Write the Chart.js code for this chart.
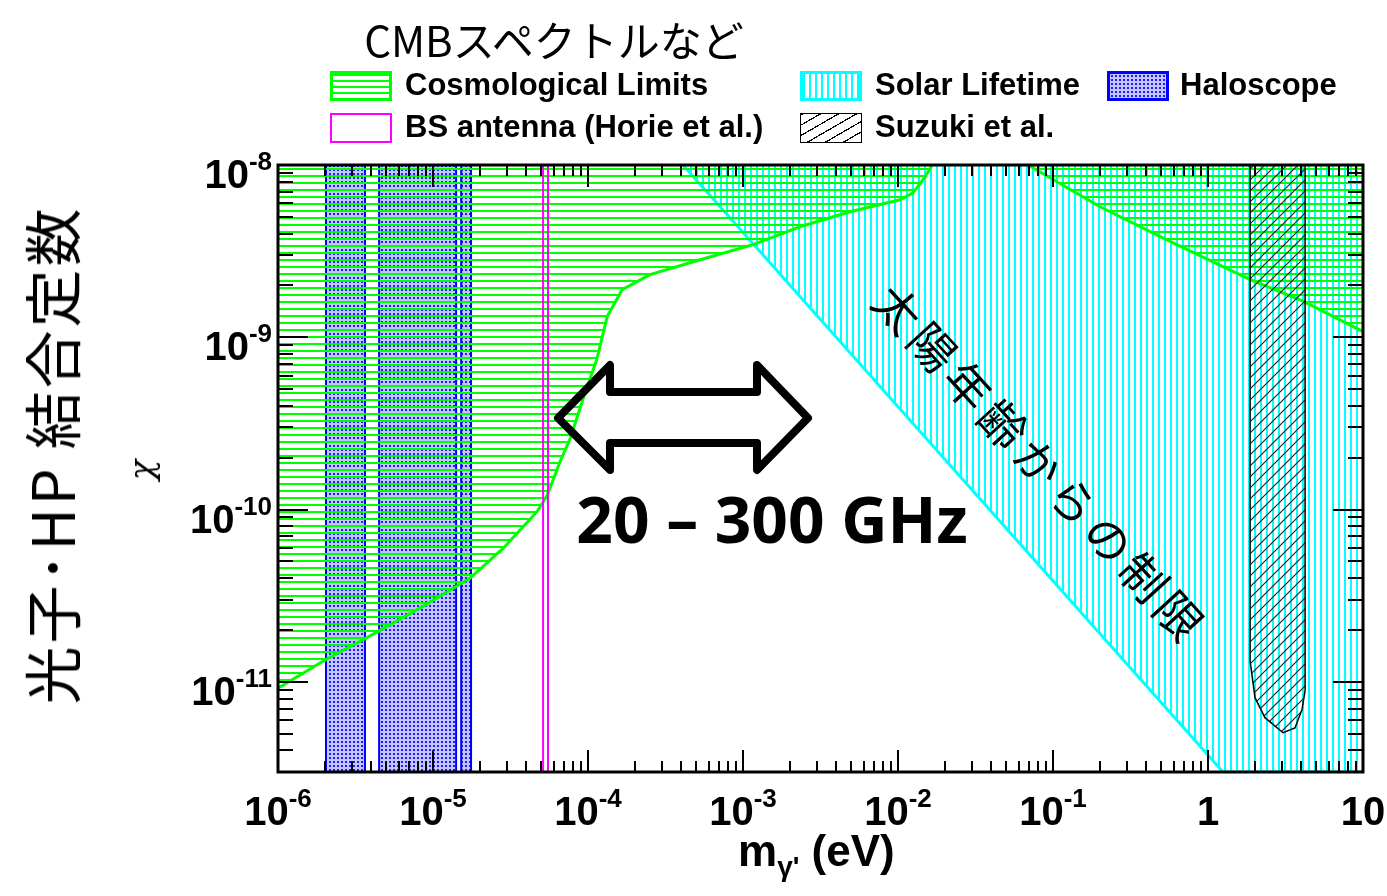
<!DOCTYPE html>
<html>
<head>
<meta charset="utf-8">
<script src="https://cdn.jsdelivr.net/npm/chart.js"></script>
<style>
  body { margin: 0; background: #fff; }
  #wrap { position: relative; width: 1387px; height: 896px; overflow: hidden; }
  .ann { position: absolute; white-space: nowrap; color: #000; }
  .leg { position: absolute; font: bold 31px "Liberation Sans", Arial, sans-serif; line-height: 30px; }
  .sw { position: absolute; width: 56px; height: 24px; }
</style>
</head>
<body>
<div id="wrap">
  <canvas id="chart" width="1387" height="896"></canvas>

  <div class="ann" style="left:554px;top:8px;transform:translateX(-50%);font:42px 'Noto Sans CJK JP';">CMBスペクトルなど</div>

  <!-- legend -->
  <div class="sw" style="left:330px;top:71px;border:3px solid #00ff00;background:repeating-linear-gradient(to bottom,#00ff00 0 2px,#fff 2px 6px);"></div>
  <div class="leg" style="left:405px;top:70px;">Cosmological Limits</div>
  <div class="sw" style="left:800px;top:71px;border:3px solid #00ffff;background:repeating-linear-gradient(to right,#00ffff 0 2px,#fff 2px 6px);"></div>
  <div class="leg" style="left:875px;top:70px;">Solar Lifetime</div>
  <div class="sw" style="left:1107px;top:71px;border:3px solid #0000ff;background:radial-gradient(circle,#1c1cff 0 1px,transparent 1.4px) 0 0/4px 4px,#c4c4ff;"></div>
  <div class="leg" style="left:1180px;top:70px;">Haloscope</div>
  <div class="sw" style="left:330px;top:113px;border:2px solid #ff00ff;width:58px;height:26px;background:#fff;"></div>
  <div class="leg" style="left:405px;top:112px;">BS antenna (Horie et al.)</div>
  <div class="sw" style="left:800px;top:113px;border:1px solid #000;width:60px;height:28px;background:repeating-linear-gradient(150deg,#000 0 1.2px,#fff 1.2px 9px);"></div>
  <div class="leg" style="left:875px;top:112px;">Suzuki et al.</div>

  <!-- axis titles -->
  <div class="ann" style="left:50px;top:455px;transform:translate(-50%,-50%) rotate(-90deg);font:58px 'Noto Sans CJK JP';letter-spacing:3px;">光子･HP 結合定数</div>
  <div class="ann" style="left:141px;top:470px;transform:translate(-50%,-50%) rotate(-90deg);font:italic 34px 'DejaVu Serif';">χ</div>
  <div class="ann" style="left:738px;top:826px;font:bold 44px 'Liberation Sans';">m<sub style="font-size:28px;">γ'</sub> (eV)</div>

  <!-- annotations -->
  <svg class="ann" style="left:0;top:0;" width="1387" height="896">
    <polygon points="558,418 610,365 610,392 757,392 757,365 808,418 757,470 757,443 610,443 610,470"
             fill="none" stroke="#000" stroke-width="8" stroke-linejoin="round"/>
  </svg>
  <div class="ann" style="left:772px;top:518px;transform:translate(-50%,-50%);font:bold 64px 'Open Sans';">20 – 300 GHz</div>
  <div class="ann" style="left:1042px;top:463px;transform:translate(-50%,-50%) rotate(47.5deg);font:46px 'Noto Sans CJK JP';letter-spacing:6px;">太陽年齢からの制限</div>
</div>

<script>
// axis ranges
const xMin = 1e-6, xMax = 10;
const yMin = 3e-12, yMax = 1e-8;

// tick labels
const xTickValues = [1e-6, 1e-5, 1e-4, 1e-3, 1e-2, 1e-1, 1, 10];
const xTickLabels = ['10^-6', '10^-5', '10^-4', '10^-3', '10^-2', '10^-1', '1', '10'];
const yTickValues = [1e-8, 1e-9, 1e-10, 1e-11];
const yTickLabels = ['10^-8', '10^-9', '10^-10', '10^-11'];

// Cosmological limits (lower boundary, excluded above)
const cosmoMass = [1e-6, 2.01e-6, 3.93e-6, 8.24e-6, 1.73e-5, 2.83e-5, 4.69e-5, 5.43e-5, 6.59e-5, 7.66e-5,
  9.29e-5, 1.14e-4, 1.33e-4, 1.66e-4, 2.51e-4, 5.29e-4, 1.16e-3, 2.33e-3, 4.9e-3, 1.03e-2, 1.25e-2, 1.49e-2, 1.66e-2];
const cosmoChi = [9.2e-12, 1.34e-11, 1.85e-11, 2.68e-11, 3.99e-11, 5.95e-11, 9.73e-11, 1.2e-10, 1.89e-10, 2.57e-10,
  4.38e-10, 7.46e-10, 1.32e-9, 1.89e-9, 2.31e-9, 2.82e-9, 3.45e-9, 4.38e-9, 5.35e-9, 6.28e-9, 6.89e-9, 8.5e-9, 1e-8];
const cosmoHighMass = [0.069, 0.201, 0.543, 1.87, 4.1, 10];
const cosmoHighChi = [1e-8, 5.72e-9, 3.68e-9, 2.16e-9, 1.62e-9, 1.08e-9];

// Solar lifetime
const solarMass = [4.1e-4, 1.25, 10];
const solarChi = [1e-8, 3e-12, 3e-12];

// Haloscope bands (mass ranges)
const haloLow = [2.04e-6, 4.49e-6, 1.52e-5];
const haloHigh = [3.64e-6, 1.41e-5, 1.76e-5];

// BS antenna (Horie et al.)
const bsLow = 5.13e-5, bsHigh = 5.52e-5;

// Suzuki et al. (lower boundary)
const suzukiMass = [1.87, 1.87, 2.01, 2.33, 3.05, 3.64, 4.04, 4.23, 4.23];
const suzukiChi = [1e-8, 1.32e-11, 8.1e-12, 6.2e-12, 5.07e-12, 5.4e-12, 6.9e-12, 8.9e-12, 1e-8];

function makePattern(w, h, draw) {
  const c = document.createElement('canvas');
  c.width = w; c.height = h;
  const g = c.getContext('2d');
  draw(g);
  return g.createPattern(c, 'repeat');
}
const greenHatch = makePattern(7, 7, g => { g.fillStyle = '#00ff00'; g.fillRect(0, 0, 7, 2); });
const cyanHatch = makePattern(6, 6, g => { g.fillStyle = '#00ffff'; g.fillRect(0, 0, 2, 6); });
const blackHatch = makePattern(11, 11, g => {
  g.strokeStyle = '#222'; g.lineWidth = 1.2;
  g.beginPath();
  g.moveTo(-1, 12); g.lineTo(12, -1);
  g.moveTo(-6, 6); g.lineTo(6, -6);
  g.moveTo(5, 17); g.lineTo(17, 5);
  g.stroke();
});
const dotPattern = makePattern(4, 4, g => {
  g.fillStyle = '#c4c4ff'; g.fillRect(0, 0, 4, 4);
  g.fillStyle = '#1c1cff'; g.fillRect(1, 1, 2, 2);
});

const pts = (xs, ys) => xs.map((x, i) => ({ x, y: ys[i] }));
const band = (lo, hi) => [{ x: lo, y: yMin }, { x: lo, y: yMax }, { x: hi, y: yMax }, { x: hi, y: yMin }];

const datasets = [];
haloLow.forEach((lo, i) => datasets.push({
  data: band(lo, haloHigh[i]), fill: 'start', backgroundColor: dotPattern,
  borderColor: '#0000ff', borderWidth: 2, order: 6
}));
datasets.push({
  data: pts(solarMass, solarChi), fill: 'end', backgroundColor: cyanHatch,
  borderColor: '#00ffff', borderWidth: 3, order: 5
});
datasets.push({
  data: pts(cosmoMass, cosmoChi), fill: 'end', backgroundColor: greenHatch,
  borderColor: '#00ff00', borderWidth: 3, order: 4
});
datasets.push({
  data: pts(cosmoHighMass, cosmoHighChi), fill: 'end', backgroundColor: greenHatch,
  borderColor: '#00ff00', borderWidth: 3, order: 4
});
datasets.push({
  data: pts(suzukiMass, suzukiChi), fill: 'end', backgroundColor: blackHatch,
  borderColor: '#000', borderWidth: 1.5, order: 2
});
datasets.push({
  data: band(bsLow, bsHigh), fill: false,
  borderColor: '#ff00ff', borderWidth: 2, order: 1
});

// ROOT-like frame, inward ticks and power-of-ten labels
function drawPow(ctx, label, px, py, align) {
  const [base, exp = ''] = label.split('^');
  ctx.font = 'bold 40px "Liberation Sans"';
  const wb = ctx.measureText(base).width;
  ctx.font = 'bold 26px "Liberation Sans"';
  const we = ctx.measureText(exp).width;
  const start = align === 'right' ? px - wb - we : px - (wb + we) / 2;
  ctx.font = 'bold 40px "Liberation Sans"';
  ctx.fillText(base, start, py);
  ctx.font = 'bold 26px "Liberation Sans"';
  ctx.fillText(exp, start + wb, py - 18);
}

const rootAxes = {
  id: 'rootAxes',
  afterDatasetsDraw(chart) {
    const { ctx, chartArea: a, scales: { x, y } } = chart;
    ctx.save();
    ctx.strokeStyle = '#000';
    ctx.lineWidth = 2;
    ctx.beginPath();
    for (let e = -6; e <= 1; e++) {
      for (let m = 1; m < 10; m++) {
        const v = m * Math.pow(10, e);
        if (v < xMin * 0.999 || v > xMax * 1.001) continue;
        const px = Math.round(x.getPixelForValue(v));
        const len = m === 1 ? 22 : 11;
        ctx.moveTo(px, a.bottom); ctx.lineTo(px, a.bottom - len);
        ctx.moveTo(px, a.top); ctx.lineTo(px, a.top + len);
      }
    }
    for (let e = -12; e <= -8; e++) {
      for (let m = 1; m < 10; m++) {
        const v = m * Math.pow(10, e);
        if (v < yMin * 0.999 || v > yMax * 1.001) continue;
        const py = Math.round(y.getPixelForValue(v));
        const len = m === 1 ? 30 : 15;
        ctx.moveTo(a.left, py); ctx.lineTo(a.left + len, py);
        ctx.moveTo(a.right, py); ctx.lineTo(a.right - len, py);
      }
    }
    ctx.stroke();
    ctx.lineWidth = 3;
    ctx.strokeRect(a.left, a.top, a.right - a.left, a.bottom - a.top);

    ctx.fillStyle = '#000';
    ctx.textBaseline = 'alphabetic';
    ctx.textAlign = 'left';
    xTickValues.forEach((v, i) => drawPow(ctx, xTickLabels[i], x.getPixelForValue(v), a.bottom + 53, 'center'));
    yTickValues.forEach((v, i) => drawPow(ctx, yTickLabels[i], a.left - 6, y.getPixelForValue(v) + 23, 'right'));
    ctx.restore();
  }
};

new Chart(document.getElementById('chart'), {
  type: 'line',
  data: { datasets },
  options: {
    responsive: false,
    animation: false,
    layout: { padding: { left: 278, top: 165, right: 24, bottom: 124 } },
    elements: { point: { radius: 0 }, line: { tension: 0 } },
    scales: {
      x: { type: 'logarithmic', min: xMin, max: xMax, display: false },
      y: { type: 'logarithmic', min: yMin, max: yMax, display: false }
    },
    plugins: { legend: { display: false }, tooltip: { enabled: false } }
  },
  plugins: [rootAxes]
});
</script>
</body>
</html>
